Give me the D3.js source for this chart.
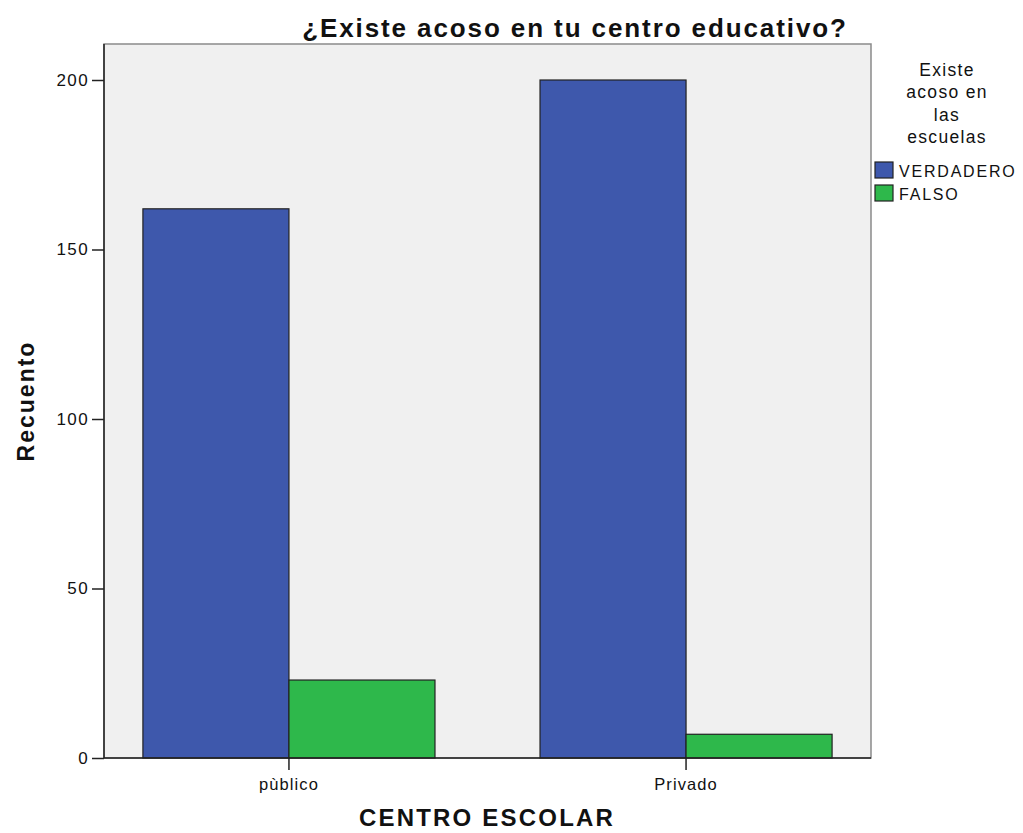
<!DOCTYPE html>
<html><head><meta charset="utf-8">
<script src="https://cdn.jsdelivr.net/npm/d3@7"></script>
<style>body{margin:0;background:#fff;} text{font-family:"Liberation Sans",Arial,sans-serif;fill:#111;}</style>
</head><body>
<svg id="c" width="1023" height="833"></svg>
<script>
const categories = ["pùblico", "Privado"];
const seriesNames = ["VERDADERO", "FALSO"];
const verdadero = [162, 200];
const falso = [23, 7];
const yTicks = [0, 50, 100, 150, 200];
const colors = ["#3e58ac", "#2eb84b"];
const legendTitle = ["Existe", "acoso en", "las", "escuelas"];

const svg = d3.select("#c");
const L = 104, R = 871, T = 44, B = 758;
const y = d3.scaleLinear().domain([0, 200]).range([B, 80]);
const x0 = d3.scaleBand().domain(categories).range([L, R]).paddingInner(0.2645).paddingOuter(0.098);
const x1 = d3.scaleBand().domain(seriesNames).range([0, x0.bandwidth()]);

svg.append("rect").attr("x", L).attr("y", T).attr("width", R - L).attr("height", B - T)
  .attr("fill", "#f0f0f0").attr("stroke", "#8a8a8a").attr("stroke-width", 1.5);

const data = categories.map((c, i) => ({cat: c, vals: [verdadero[i], falso[i]]}));
const g = svg.append("g");
data.forEach(d => {
  d.vals.forEach((v, j) => {
    g.append("rect")
      .attr("x", x0(d.cat) + x1(seriesNames[j]))
      .attr("y", y(v))
      .attr("width", x1.bandwidth())
      .attr("height", y(0) - y(v))
      .attr("fill", colors[j]).attr("stroke", "#222").attr("stroke-width", 1.2);
  });
});

// y axis
const ya = svg.append("g").attr("transform", `translate(${L},0)`)
  .call(d3.axisLeft(y).tickValues(yTicks).tickSize(12).tickPadding(3));
ya.select(".domain").attr("d", `M0,${T}V${B}`).attr("stroke", "#222").attr("stroke-width", 1.5);
ya.selectAll(".tick line").attr("stroke", "#222").attr("stroke-width", 1.5);
ya.selectAll(".tick text").attr("font-size", 17).attr("letter-spacing", 1.4).attr("fill", "#222")
  .style("font-family", "Liberation Sans, Arial, sans-serif");

// x axis
const xa = svg.append("g").attr("transform", `translate(0,${B})`)
  .call(d3.axisBottom(x0).tickSize(12).tickPadding(8));
xa.select(".domain").attr("d", `M${L},0H${R}`).attr("stroke", "#222").attr("stroke-width", 1.5);
xa.selectAll(".tick line").attr("stroke", "#222").attr("stroke-width", 1.5);
xa.selectAll(".tick text").attr("font-size", 16.5).attr("letter-spacing", 1.1).attr("fill", "#222")
  .style("font-family", "Liberation Sans, Arial, sans-serif");

// title
svg.append("text").attr("x", 575).attr("y", 37).attr("text-anchor", "middle")
  .attr("font-size", 26).attr("font-weight", "bold").attr("letter-spacing", 1.9)
  .text("¿Existe acoso en tu centro educativo?");

// axis titles
svg.append("text").attr("x", 487).attr("y", 826).attr("text-anchor", "middle")
  .attr("font-size", 24).attr("font-weight", "bold").attr("letter-spacing", 2.2)
  .text("CENTRO ESCOLAR");
svg.append("text").attr("transform", "translate(34,401) rotate(-90)").attr("text-anchor", "middle")
  .attr("font-size", 23).attr("font-weight", "bold").attr("letter-spacing", 2)
  .text("Recuento");

// legend
const lg = svg.append("g");
legendTitle.forEach((t, i) => {
  lg.append("text").attr("x", 947).attr("y", 76 + i * 22.3).attr("text-anchor", "middle")
    .attr("font-size", 17.5).attr("letter-spacing", 1.3).attr("fill", "#222").text(t);
});
seriesNames.forEach((s, i) => {
  lg.append("rect").attr("x", 875).attr("y", 162 + i * 23).attr("width", 18).attr("height", 16)
    .attr("fill", colors[i]).attr("stroke", "#222").attr("stroke-width", 1.2);
  lg.append("text").attr("x", 899).attr("y", 177 + i * 23).attr("font-size", 16)
    .attr("letter-spacing", 1.8).attr("fill", "#222").text(s);
});
</script>
</body></html>
